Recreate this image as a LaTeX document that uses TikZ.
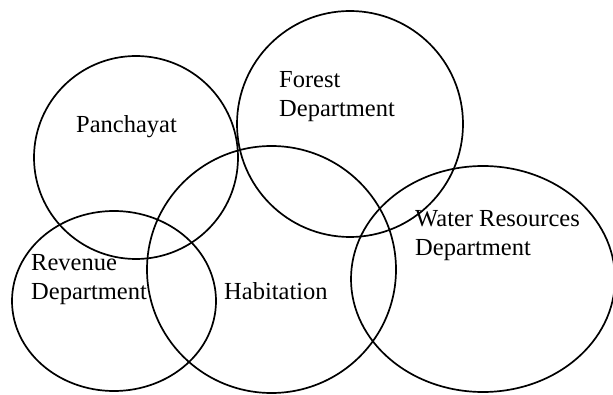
\documentclass[tikz,border=0pt]{standalone}
\usepackage{fontspec}
\setmainfont{Liberation Serif}
\begin{document}
\begin{tikzpicture}[x=1pt,y=-1pt,
  ring/.style={draw=black,line width=1.7pt},
  lbl/.style={anchor=base west,inner sep=0pt,font=\fontsize{24.5}{29}\selectfont}]
\useasboundingbox (0,0) rectangle (613,395);
% circles
\draw[ring] (136,157.5) ellipse [x radius=102, y radius=101.5];
\draw[ring] (350,124) ellipse [x radius=113, y radius=113];
\draw[ring] (271.5,269.5) ellipse [x radius=124.5, y radius=123.5];
\draw[ring] (114,301) ellipse [x radius=102, y radius=90];
\draw[ring] (483,279) ellipse [x radius=132, y radius=113];
% labels
\node[lbl] (pan) at (76,133) {Panchayat};
\node[lbl] (for1) at (279,88) {Forest};
\node[lbl] (for2) at (279,117) {Department};
\node[lbl] (wat1) at (415,227) {Water Resources};
\node[lbl] (wat2) at (415,256) {Department};
\node[lbl] (rev1) at (31,271) {Revenue};
\node[lbl] (rev2) at (31,300) {Department};
\node[lbl] (hab) at (224,300) {Habitation};
\end{tikzpicture}
\end{document}
